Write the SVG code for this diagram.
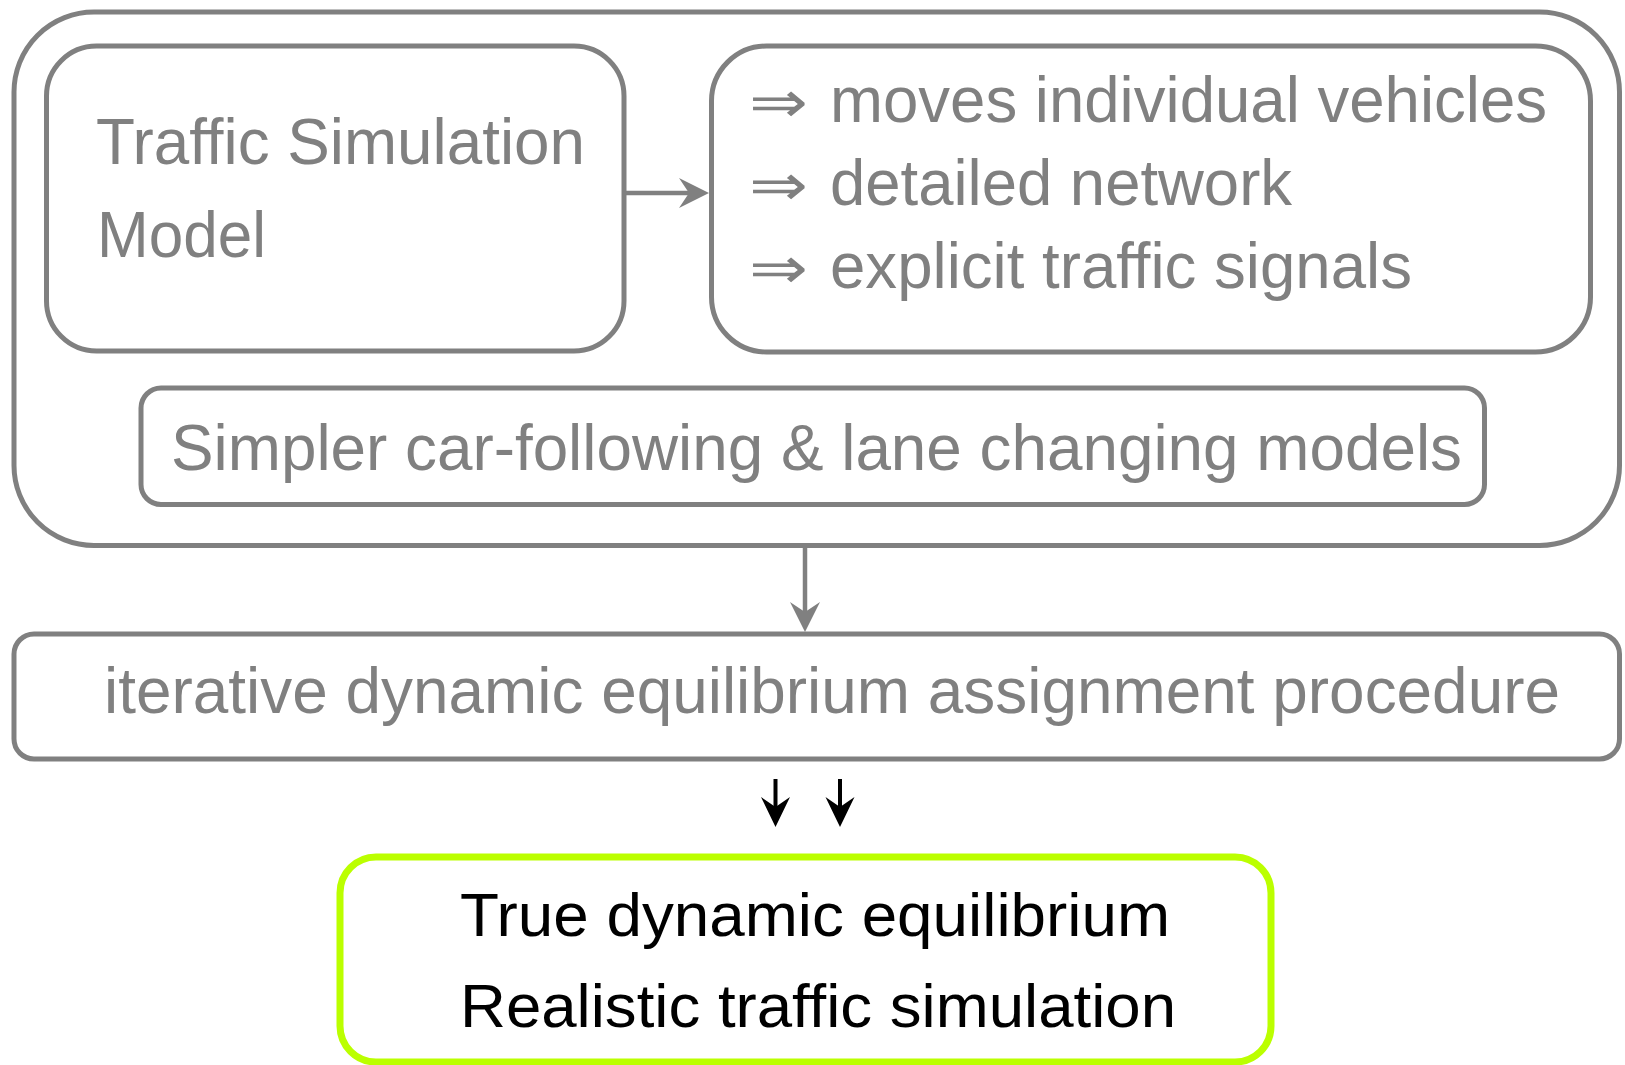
<svg xmlns="http://www.w3.org/2000/svg" width="1625" height="1065" viewBox="0 0 1625 1065">
<defs>
<style>
.box{fill:#ffffff;stroke:#808080;stroke-width:5}
.gt{font-family:"Liberation Sans",Arial,sans-serif;fill:#808080;font-size:64px}
.bt{font-family:"Liberation Sans",Arial,sans-serif;fill:#000000;font-size:62px}
.ar{font-family:"DejaVu Sans",sans-serif;fill:#808080;font-size:58px}
.gl{stroke:#808080;stroke-width:4.5;fill:none}
.bl{stroke:#000000;stroke-width:4;fill:none}
</style>
<marker id="ag" markerUnits="userSpaceOnUse" markerWidth="32" markerHeight="32" refX="10" refY="15" orient="auto">
<path d="M0,0 L30,15 L0,30 L10,15 Z" fill="#808080"/>
</marker>
<marker id="ab" markerUnits="userSpaceOnUse" markerWidth="32" markerHeight="32" refX="10" refY="14.5" orient="auto">
<path d="M0,0 L30,14.5 L0,29 L10,14.5 Z" fill="#000000"/>
</marker>
</defs>
<rect width="1625" height="1065" fill="#ffffff"/>
<g id="outer">
<rect class="box" x="14" y="12" width="1605.5" height="533.5" rx="80" ry="80"/>
</g>
<g id="model">
<rect class="box" x="46.5" y="46" width="577.5" height="305" rx="50" ry="50"/>
<text class="gt" x="96" y="164" textLength="489" lengthAdjust="spacingAndGlyphs">Traffic Simulation</text>
<text class="gt" x="97" y="257" textLength="169" lengthAdjust="spacingAndGlyphs">Model</text>
</g>
<g id="features">
<rect class="box" x="711.5" y="46" width="879" height="306" rx="55" ry="55"/>
<text class="ar" x="749" y="122" textLength="59" lengthAdjust="spacingAndGlyphs">⇒</text>
<text class="gt" x="830" y="122" textLength="717" lengthAdjust="spacingAndGlyphs">moves individual vehicles</text>
<text class="ar" x="749" y="205" textLength="59" lengthAdjust="spacingAndGlyphs">⇒</text>
<text class="gt" x="830" y="205" textLength="462" lengthAdjust="spacingAndGlyphs">detailed network</text>
<text class="ar" x="749" y="288" textLength="59" lengthAdjust="spacingAndGlyphs">⇒</text>
<text class="gt" x="830" y="288" textLength="582" lengthAdjust="spacingAndGlyphs">explicit traffic signals</text>
</g>
<g id="simpler">
<rect class="box" x="141" y="388" width="1343.5" height="116.5" rx="20" ry="20"/>
<text class="gt" x="171" y="470" textLength="1291" lengthAdjust="spacingAndGlyphs">Simpler car-following &amp; lane changing models</text>
</g>
<g id="iterative">
<rect class="box" x="14" y="634" width="1605.5" height="125" rx="20" ry="20"/>
<text class="gt" x="104" y="713" textLength="1456" lengthAdjust="spacingAndGlyphs">iterative dynamic equilibrium assignment procedure</text>
</g>
<g id="result">
<rect x="340" y="857" width="931" height="205" rx="36" ry="36" fill="#ffffff" stroke="#bbff00" stroke-width="7"/>
<text class="bt" x="460" y="936" textLength="710" lengthAdjust="spacingAndGlyphs">True dynamic equilibrium</text>
<text class="bt" x="460" y="1027" textLength="716" lengthAdjust="spacingAndGlyphs">Realistic traffic simulation</text>
</g>
<g id="connectors">
<line class="gl" x1="626" y1="193" x2="689" y2="193" marker-end="url(#ag)"/>
<line class="gl" x1="805" y1="548" x2="805" y2="612" marker-end="url(#ag)"/>
<line class="bl" x1="775.5" y1="779" x2="775.5" y2="807" marker-end="url(#ab)"/>
<line class="bl" x1="840" y1="779" x2="840" y2="807" marker-end="url(#ab)"/>
</g>
</svg>
